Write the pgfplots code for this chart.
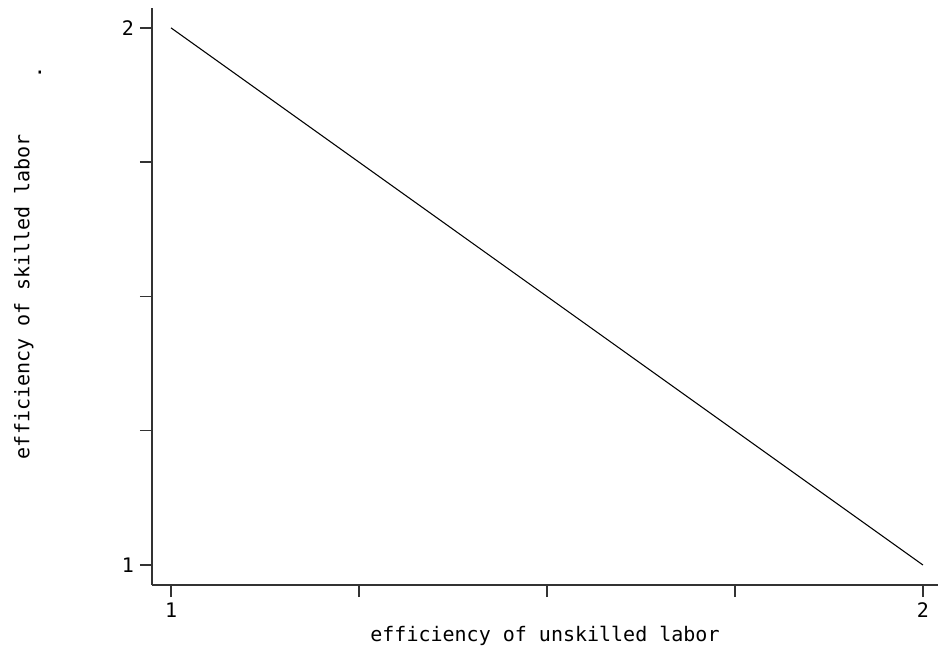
\documentclass[border=0pt]{standalone}
\usepackage{fontspec}
\setmainfont{DejaVu Sans Mono}
\setmonofont{DejaVu Sans Mono}
\usepackage{pgfplots}
\pgfplotsset{compat=1.18}
\begin{document}
\begin{tikzpicture}
\begin{axis}[
  at={(0,0)}, anchor=south west,
  scale only axis,
  width=589.5pt, height=432.75pt,
  xmin=0.9747, xmax=2.02,
  ymin=0.9628, ymax=2.037,
  axis x line*=bottom, axis y line*=left,
  axis line style={line width=1.1pt, color=black!80},
  every tick/.style={line width=1pt, color=black!80},
  tick align=outside,
  major tick length=9pt,
  xtick={1,1.25,1.5,1.75,2},
  xticklabels={1,,,,2},
  ytick={1,1.25,1.5,1.75,2},
  yticklabels={1,,,,2},
  /pgf/number format/assume math mode=true,
  tick label style={font=\fontsize{15}{18}\selectfont},
  xticklabel style={yshift=-1pt},
  yticklabel style={xshift=-1pt},
  xlabel={efficiency of unskilled labor},
  ylabel={efficiency of skilled labor},
  label style={font=\fontsize{15}{18}\selectfont},
  xlabel style={yshift=1pt},
  ylabel style={yshift=59.5pt},
  clip=false,
]
\addplot[black, line width=0.8pt] coordinates {(1,2) (2,1)};
\end{axis}
\node[font=\fontsize{15}{18}\selectfont, inner sep=0pt] at (-84pt,382.5pt) {·};
\pgfresetboundingbox
\path[use as bounding box] (-114pt,-48.75pt) rectangle (589.5pt,438.75pt);
\end{tikzpicture}
\end{document}
